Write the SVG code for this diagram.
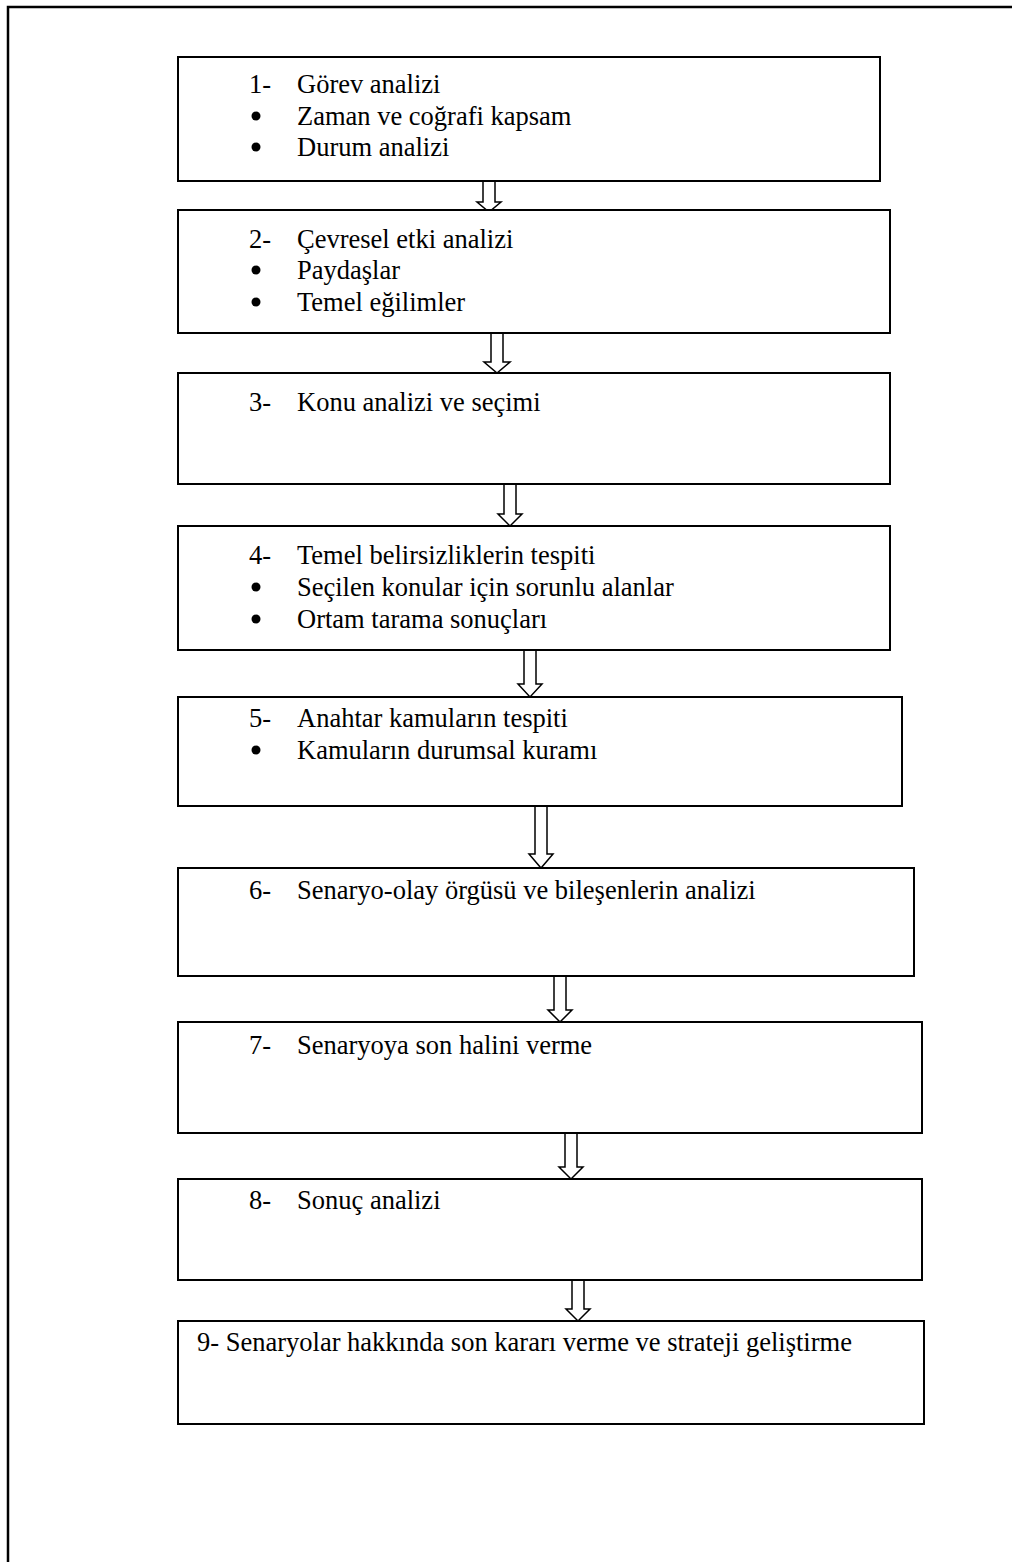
<svg xmlns="http://www.w3.org/2000/svg" width="1012" height="1562" viewBox="0 0 1012 1562">
  <style>
    .box { fill: #ffffff; stroke: #000000; stroke-width: 2; }
    .frame { fill: none; stroke: #000000; stroke-width: 2.5; }
    .arrow { fill: #ffffff; stroke: #000000; stroke-width: 1.5; stroke-linejoin: miter; }
    .t { font-family: "Liberation Serif", "Times New Roman", serif; font-size: 26.5px; fill: #000000; }
    .dot { fill: #000000; }
  </style>
  <rect width="1012" height="1562" fill="#ffffff"/>

  <!-- page frame -->
  <path class="frame" d="M8,1562 V7 H1012"/>

  <!-- connectors -->
  <g id="connectors">
    <path class="arrow" d="M483,181 V202 H477 L489,212 L501,202 H495 V181"/>
    <path class="arrow" d="M491,334 V362 H484 L497,373 L510,362 H503 V334"/>
    <path class="arrow" d="M504,485 V514 H498 L510,526 L522,514 H516 V485"/>
    <path class="arrow" d="M524,651 V684 H518 L530,697 L542,684 H536 V651"/>
    <path class="arrow" d="M535,807 V854 H529 L541,868 L553,854 H547 V807"/>
    <path class="arrow" d="M554,977 V1010 H548 L560,1022 L572,1010 H566 V977"/>
    <path class="arrow" d="M565,1134 V1167 H559 L571,1179 L583,1167 H577 V1134"/>
    <path class="arrow" d="M572,1281 V1309 H566 L578,1321 L590,1309 H584 V1281"/>
  </g>

  <g id="step1">
    <rect class="box" x="178" y="57" width="702" height="124"/>
    <text class="t" x="249" y="93">1-</text>
    <text class="t" x="297" y="93">Görev analizi</text>
    <circle class="dot" cx="256" cy="116" r="4.5"/>
    <text class="t" x="297" y="125">Zaman ve coğrafi kapsam</text>
    <circle class="dot" cx="256" cy="147" r="4.5"/>
    <text class="t" x="297" y="156">Durum analizi</text>
  </g>

  <g id="step2">
    <rect class="box" x="178" y="210" width="712" height="123"/>
    <text class="t" x="249" y="248">2-</text>
    <text class="t" x="297" y="248">Çevresel etki analizi</text>
    <circle class="dot" cx="256" cy="270" r="4.5"/>
    <text class="t" x="297" y="279">Paydaşlar</text>
    <circle class="dot" cx="256" cy="302" r="4.5"/>
    <text class="t" x="297" y="311">Temel eğilimler</text>
  </g>

  <g id="step3">
    <rect class="box" x="178" y="373" width="712" height="111"/>
    <text class="t" x="249" y="411">3-</text>
    <text class="t" x="297" y="411">Konu analizi ve seçimi</text>
  </g>

  <g id="step4">
    <rect class="box" x="178" y="526" width="712" height="124"/>
    <text class="t" x="249" y="564">4-</text>
    <text class="t" x="297" y="564">Temel belirsizliklerin tespiti</text>
    <circle class="dot" cx="256" cy="587" r="4.5"/>
    <text class="t" x="297" y="596">Seçilen konular için sorunlu alanlar</text>
    <circle class="dot" cx="256" cy="619" r="4.5"/>
    <text class="t" x="297" y="628">Ortam tarama sonuçları</text>
  </g>

  <g id="step5">
    <rect class="box" x="178" y="697" width="724" height="109"/>
    <text class="t" x="249" y="727">5-</text>
    <text class="t" x="297" y="727">Anahtar kamuların tespiti</text>
    <circle class="dot" cx="256" cy="750" r="4.5"/>
    <text class="t" x="297" y="759">Kamuların durumsal kuramı</text>
  </g>

  <g id="step6">
    <rect class="box" x="178" y="868" width="736" height="108"/>
    <text class="t" x="249" y="899">6-</text>
    <text class="t" x="297" y="899">Senaryo-olay örgüsü ve bileşenlerin analizi</text>
  </g>

  <g id="step7">
    <rect class="box" x="178" y="1022" width="744" height="111"/>
    <text class="t" x="249" y="1054">7-</text>
    <text class="t" x="297" y="1054">Senaryoya son halini verme</text>
  </g>

  <g id="step8">
    <rect class="box" x="178" y="1179" width="744" height="101"/>
    <text class="t" x="249" y="1209">8-</text>
    <text class="t" x="297" y="1209">Sonuç analizi</text>
  </g>

  <g id="step9">
    <rect class="box" x="178" y="1321" width="746" height="103"/>
    <text class="t" x="197" y="1351">9- Senaryolar hakkında son kararı verme ve strateji geliştirme</text>
  </g>
</svg>
